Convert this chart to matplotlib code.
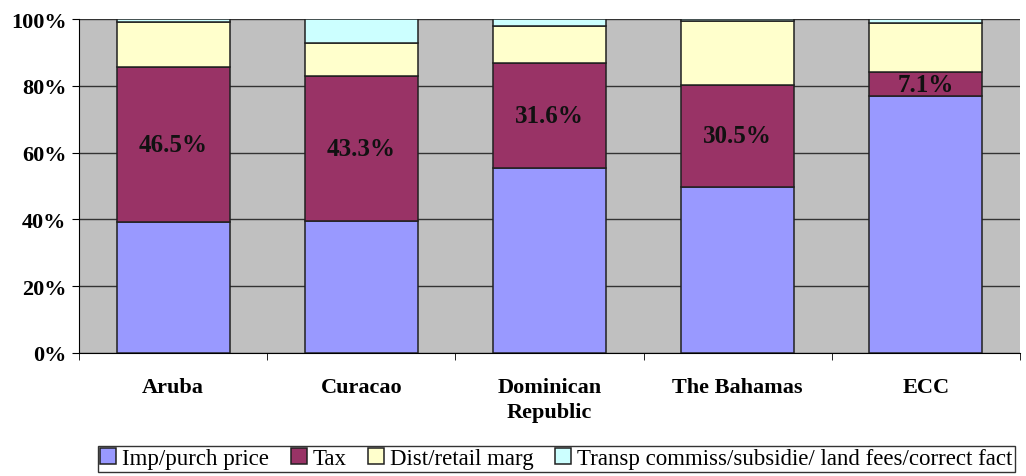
import numpy as np
import matplotlib.pyplot as plt
from matplotlib.ticker import FixedLocator, PercentFormatter

plt.rcParams['font.family'] = ['Liberation Serif', 'DejaVu Serif']

countries = ["Aruba", "Curacao", "Dominican\nRepublic", "The Bahamas", "ECC"]
imp_price = [39.1, 39.5, 55.3, 49.8, 76.9]
tax = [46.5, 43.3, 31.6, 30.5, 7.1]
dist_marg = [13.5, 10.1, 10.9, 19.0, 14.7]
transp = [0.9, 7.1, 2.2, 0.7, 1.3]

series = [
    ("Imp/purch price", imp_price, "#9999FF"),
    ("Tax", tax, "#993366"),
    ("Dist/retail marg", dist_marg, "#FFFFCC"),
    ("Transp commiss/subsidie/ land fees/correct fact", transp, "#CCFFFF"),
]

fig = plt.figure(figsize=(10.26, 4.77), dpi=100)
ax = fig.add_axes([0.077, 0.258, 0.917, 0.700])
ax.set_facecolor("#C0C0C0")

x = np.arange(len(countries))
bottom = np.zeros(len(countries))
for name, vals, col in series:
    vals = np.array(vals)
    ax.bar(x, vals, 0.6, bottom=bottom, color=col, edgecolor="#202020",
           linewidth=1.1, label=name, zorder=3)
    bottom += vals

# tax labels in the middle of the tax segment
for i in range(len(countries)):
    ax.text(x[i], imp_price[i] + tax[i] / 2, f"{tax[i]:.1f}%", ha="center",
            va="center", fontsize=18, fontweight="bold", color="#111111", zorder=4)

ax.set_xlim(-0.5, len(countries) - 0.5)
ax.set_ylim(0, 100)
ax.set_yticks(np.arange(0, 101, 20))
ax.yaxis.set_major_formatter(PercentFormatter(decimals=0))
ax.grid(axis="y", color="#333333", linewidth=1, zorder=1)

ax.set_xticks(x)
ax.set_xticklabels(countries, fontsize=16, fontweight="bold", linespacing=1.35)
ax.xaxis.set_minor_locator(FixedLocator(np.arange(-0.5, len(countries), 1)))
ax.tick_params(axis="x", which="major", length=0, pad=17)
ax.tick_params(axis="x", which="minor", length=5, direction="out", color="black")
ax.tick_params(axis="y", length=5, direction="out", labelsize=16, pad=4)
for lab in ax.get_yticklabels():
    lab.set_fontweight("bold")

for s in ["top", "right"]:
    ax.spines[s].set_visible(False)
ax.spines["left"].set_color("black")
ax.spines["bottom"].set_color("black")

leg = fig.legend(loc="upper left", bbox_to_anchor=(0.0955, 0.063), ncol=4,
                 fontsize=16.5, frameon=True, fancybox=False, edgecolor="black",
                 handlelength=0.7, handleheight=0.7, handletextpad=0.25,
                 columnspacing=0.95, borderpad=0.1, borderaxespad=0)
leg.get_frame().set_linewidth(1)

fig.savefig("out.png", dpi=100)
